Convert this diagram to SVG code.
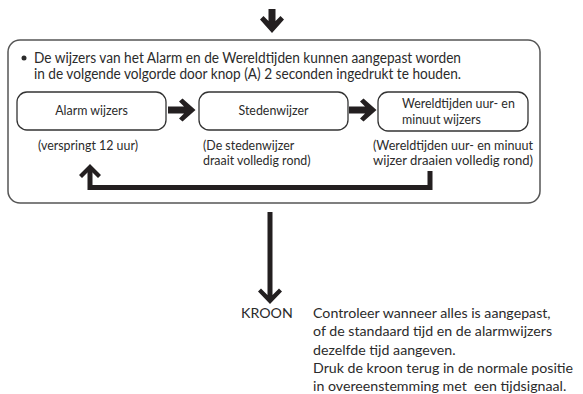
<svg xmlns="http://www.w3.org/2000/svg" width="583" height="394" viewBox="0 0 583 394">
<style>
text{font-family:Lato,"Open Sans","Liberation Sans",sans-serif;fill:#2b2b2b}
.t{font-size:14.5px}
.s{font-size:12.4px}
.k{font-size:14.2px}
.box{fill:#fff;stroke:#333;stroke-width:1.3}
.frame{fill:#fff;stroke:#555;stroke-width:1.5}
.ar{fill:#231f20}
.ln{fill:none;stroke:#231f20;stroke-width:5;stroke-linejoin:miter}
</style>
<rect width="583" height="394" fill="#fff"/>
<g id="frame">
<rect class="frame" x="8" y="40" width="532" height="163" rx="12"/>
<circle cx="24" cy="58" r="2.5" fill="#2b2b2b"/>
<text class="t" x="34" y="63" textLength="427" lengthAdjust="spacingAndGlyphs">De wijzers van het Alarm en de Wereldtijden kunnen aangepast worden</text>
<text class="t" x="34" y="79" textLength="427" lengthAdjust="spacingAndGlyphs">in de volgende volgorde door knop (A) 2 seconden ingedrukt te houden.</text>
</g>
<g id="alarm">
<rect class="box" x="17" y="92" width="149" height="38" rx="10"/>
<text class="s" x="91.5" y="115" text-anchor="middle">Alarm wijzers</text>
<text class="s" x="38" y="150">(verspringt 12 uur)</text>
</g>
<g id="steden">
<rect class="box" x="199" y="92" width="149" height="38" rx="10"/>
<text class="s" x="273.5" y="115" text-anchor="middle">Stedenwijzer</text>
<text class="s" x="203" y="150">(De stedenwijzer</text>
<text class="s" x="203" y="165">draait volledig rond)</text>
</g>
<g id="wereld">
<rect class="box" x="378" y="92" width="150" height="39" rx="10"/>
<text class="s" x="402" y="108">Wereldtijden uur- en</text>
<text class="s" x="402" y="124">minuut wijzers</text>
<text class="s" x="373" y="150" textLength="160" lengthAdjust="spacingAndGlyphs">(Wereldtijden uur- en minuut</text>
<text class="s" x="373" y="165" textLength="160" lengthAdjust="spacingAndGlyphs">wijzer draaien volledig rond)</text>
</g>
<g id="kroon">
<text class="k" x="241" y="318">KROON</text>
<text class="k" x="313" y="318">Controleer wanneer alles is aangepast,</text>
<text class="k" x="313" y="336">of de standaard tijd en de alarmwijzers</text>
<text class="k" x="313" y="355">dezelfde tijd aangeven.</text>
<text class="k" x="313" y="373">Druk de kroon terug in de normale positie</text>
<text class="k" x="313" y="391" style="white-space:pre">in overeenstemming met  een tijdsignaal.</text>
</g>
<g id="connectors">
<path class="ar" d="M268.5,9 H275.5 V21 L280.5,16 L284,19.5 L272,33 L260,19.5 L263.5,16 L268.5,21 Z"/>
<path class="ar" d="M168,106.5 H184 L179,101.5 L182.5,98.5 L195.5,110 L182.5,121.5 L179,118.5 L184,113.5 H168 Z"/>
<path class="ar" d="M349,106.5 H365 L360,101.5 L363.5,98.5 L376.5,110 L363.5,121.5 L360,118.5 L365,113.5 H349 Z"/>
<path class="ln" d="M430,171 V187.5 H90 V172"/>
<path class="ar" d="M90,164 L101,175 L98,178 L92.5,172.5 L87.5,172.5 L82,178 L79,175 Z"/>
<path class="ar" d="M267.5,212 H272.5 V295 L279,288.5 L282,291.5 L270,304 L258,291.5 L261,288.5 L267.5,295 Z"/>
</g>
</svg>
